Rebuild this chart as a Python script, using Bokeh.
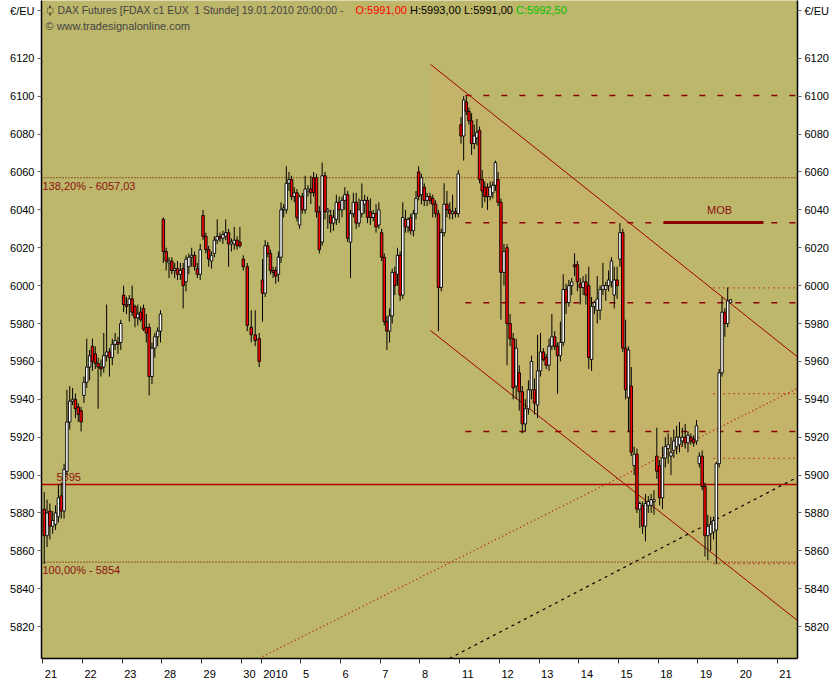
import numpy as np
from bokeh.plotting import figure
from bokeh.models import (Range1d, Label, ColumnDataSource, BoxAnnotation,
                          LinearAxis, FixedTicker, CustomJSTickFormatter)
from bokeh.embed import file_html
from bokeh.resources import INLINE

# ------------------------------------------------------------------ data
day_labels = ["21", "22", "23", "28", "29", "30", "2010", "5", "6", "7", "8",
              "11", "12", "13", "14", "15", "18", "19", "20", "21"]
day_slots = [14, 14, 14, 14, 14, 7, 14, 14, 14, 14, 14, 14, 14, 14, 14, 14, 14, 14, 14, 14]

# hourly bars per day: (open, high, low, close)
dec21 = [(5882, 5891, 5853, 5868), (5868, 5887, 5862, 5880), (5881, 5885, 5866, 5873),
         (5873, 5881, 5869, 5876), (5874, 5884, 5871, 5880), (5878, 5895, 5875, 5888),
         (5889, 5896, 5877, 5881), (5881, 5906, 5877, 5903), (5902, 5945, 5900, 5928),
         (5928, 5947, 5924, 5939), (5939, 5946, 5937, 5940), (5940, 5943, 5930, 5935),
         (5936, 5938, 5928, 5932), (5934, 5936, 5923, 5928)]
dec22 = [(5942, 5952, 5938, 5949), (5949, 5972, 5946, 5957), (5957, 5966, 5950, 5963),
         (5968, 5972, 5955, 5960), (5964, 5968, 5956, 5959), (5959, 5962, 5935, 5957),
         (5957, 5961, 5952, 5956), (5957, 5975, 5954, 5963), (5963, 5990, 5960, 5965),
         (5965, 5967, 5952, 5962), (5962, 5972, 5958, 5969), (5969, 5975, 5966, 5971),
         (5970, 5973, 5964, 5969), (5970, 5982, 5966, 5980)]
dec23 = [(5995, 6000, 5986, 5990), (5990, 5994, 5985, 5989), (5990, 5995, 5981, 5993),
         (5993, 6000, 5984, 5986), (5989, 5990, 5978, 5983), (5983, 5990, 5979, 5985),
         (5986, 5989, 5981, 5982), (5988, 5990, 5976, 5977), (5978, 5985, 5970, 5975),
         (5978, 5980, 5942, 5952), (5952, 5970, 5948, 5967), (5967, 5975, 5962, 5973),
         (5973, 5978, 5968, 5976), (5976, 5987, 5970, 5985)]
dec28 = [(6035, 6036, 6012, 6018), (6018, 6020, 6008, 6013), (6012, 6015, 6004, 6013),
         (6013, 6015, 6006, 6008), (6008, 6012, 6004, 6009), (6009, 6013, 6003, 6006),
         (6006, 6012, 6003, 6008), (6009, 6012, 5988, 6000), (6002, 6016, 5997, 6014),
         (6010, 6017, 6006, 6015), (6015, 6020, 6010, 6016), (6016, 6018, 6008, 6010),
         (6009, 6012, 6004, 6006), (6006, 6022, 6003, 6019)]
dec29 = [(6037, 6040, 6024, 6026), (6026, 6028, 6017, 6019), (6019, 6021, 6010, 6014),
         (6013, 6018, 6009, 6016), (6017, 6026, 6015, 6024), (6024, 6035, 6022, 6026),
         (6026, 6028, 6023, 6025), (6025, 6029, 6022, 6027), (6026, 6035, 6024, 6028),
         (6028, 6030, 6010, 6022), (6022, 6025, 6018, 6023), (6022, 6031, 6019, 6024),
         (6024, 6026, 6019, 6021), (6023, 6031, 6020, 6021)]
dec30 = [(6014, 6016, 6008, 6010), (6010, 6012, 5976, 5979), (5978, 5987, 5970, 5974),
         (5974, 5987, 5968, 5971), (5972, 5975, 5957, 5960)]
jan04 = [(6003, 6014, 5981, 5996), (5996, 6024, 5994, 6021), (6021, 6023, 6015, 6017),
         (6017, 6019, 6006, 6008), (6008, 6010, 6004, 6007), (6008, 6010, 6001, 6005),
         (6006, 6018, 6002, 6015), (6015, 6044, 6012, 6040), (6040, 6043, 6036, 6041),
         (6040, 6063, 6038, 6054), (6054, 6060, 6050, 6056), (6056, 6058, 6045, 6047),
         (6047, 6052, 6044, 6049), (6049, 6051, 6034, 6036), (6032, 6048, 6030, 6047)]
jan05 = [(6047, 6049, 6038, 6040), (6040, 6058, 6038, 6051), (6050, 6053, 6047, 6051),
         (6051, 6058, 6043, 6049), (6057, 6060, 6047, 6049), (6057, 6059, 6036, 6039),
         (6039, 6042, 6017, 6019), (6023, 6065, 6021, 6058), (6058, 6060, 6035, 6039),
         (6039, 6041, 6030, 6040), (6037, 6040, 6028, 6033), (6033, 6040, 6029, 6036),
         (6035, 6048, 6032, 6044), (6044, 6047, 6033, 6040)]
jan06 = [(6040, 6047, 6036, 6045), (6045, 6052, 6040, 6048), (6048, 6050, 6023, 6025),
         (6023, 6040, 6004, 6038), (6038, 6049, 6036, 6044), (6044, 6049, 6030, 6033),
         (6033, 6046, 6031, 6040), (6038, 6054, 6036, 6045), (6043, 6048, 6038, 6045),
         (6045, 6047, 6033, 6036), (6039, 6046, 6032, 6036), (6036, 6040, 6034, 6038),
         (6038, 6043, 6028, 6031), (6032, 6044, 6030, 6040)]
jan07 = [(6028, 6030, 6013, 6015), (6015, 6017, 5979, 5981), (5981, 5984, 5966, 5976),
         (5976, 5988, 5970, 5984), (5984, 6009, 5980, 6007), (6007, 6010, 5995, 6000),
         (6006, 6020, 6000, 6016), (6016, 6018, 5992, 5995), (5995, 6044, 5993, 6036),
         (6035, 6040, 6028, 6031), (6031, 6036, 6028, 6035), (6036, 6038, 6027, 6029),
         (6029, 6040, 6026, 6038), (6038, 6050, 6035, 6046), (6060, 6063, 6045, 6047)]
jan08 = [(6048, 6059, 6043, 6057), (6052, 6054, 6042, 6045), (6045, 6049, 6042, 6047),
         (6047, 6049, 6043, 6045), (6046, 6048, 6036, 6043), (6043, 6045, 6036, 6038),
         (6038, 6040, 5976, 5999), (5999, 6030, 5997, 6028), (6028, 6054, 6026, 6043),
         (6043, 6050, 6036, 6040), (6040, 6044, 6035, 6038), (6038, 6048, 6035, 6039),
         (6039, 6041, 6036, 6038), (6038, 6061, 6036, 6059)]
jan11 = [(6085, 6089, 6075, 6079), (6079, 6100, 6066, 6098), (6097, 6100, 6090, 6092),
         (6092, 6094, 6085, 6087), (6087, 6091, 6069, 6075), (6075, 6085, 6072, 6079),
         (6078, 6088, 6074, 6081), (6082, 6084, 6054, 6056), (6056, 6061, 6041, 6050),
         (6052, 6055, 6044, 6047), (6052, 6054, 6040, 6047), (6047, 6055, 6045, 6052),
         (6049, 6055, 6046, 6053), (6053, 6066, 6050, 6065), (6056, 6060, 6042, 6044)]
jan12 = [(6044, 6046, 5982, 6007), (6007, 6022, 6000, 6018), (6020, 6022, 5958, 5980),
         (5980, 5985, 5968, 5972), (5972, 5975, 5940, 5946), (5947, 5972, 5940, 5967),
         (5954, 5958, 5934, 5944), (5944, 5947, 5922, 5927), (5927, 5940, 5923, 5935),
         (5935, 5950, 5932, 5945), (5945, 5963, 5940, 5960), (5945, 5951, 5932, 5938),
         (5937, 5974, 5930, 5955)]
jan13 = [(5955, 5975, 5952, 5965), (5965, 5967, 5960, 5961), (5962, 5964, 5956, 5958),
         (5958, 5972, 5955, 5968), (5968, 5985, 5966, 5973), (5973, 5976, 5966, 5968),
         (5968, 5970, 5943, 5963), (5963, 5981, 5960, 5970), (5970, 6006, 5968, 5998),
         (5998, 6001, 5985, 5991), (5991, 6003, 5989, 6000), (6000, 6004, 5995, 6002),
         (6011, 6017, 6005, 6010), (6011, 6013, 5997, 6002)]
jan14 = [(6001, 6004, 5990, 5999), (5999, 6005, 5995, 6002), (6002, 6006, 5990, 5995),
         (6000, 6010, 5956, 5962), (5961, 5994, 5955, 5989), (5989, 5992, 5985, 5991),
         (5987, 6005, 5980, 5993), (5987, 6000, 5982, 5998), (5998, 6012, 5995, 6000),
         (5998, 6002, 5992, 6000), (6000, 6008, 5997, 6003), (6002, 6015, 5999, 6013),
         (5995, 6010, 5988, 6003), (6003, 6010, 5993, 6000)]
jan15 = [(6014, 6033, 6010, 6028), (6028, 6030, 5965, 5967), (5967, 5982, 5940, 5945),
         (5941, 5968, 5923, 5966), (5947, 5957, 5910, 5912), (5905, 5915, 5900, 5911),
         (5911, 5914, 5880, 5882), (5882, 5886, 5872, 5885), (5884, 5886, 5869, 5873),
         (5873, 5890, 5865, 5885), (5884, 5889, 5880, 5886), (5884, 5890, 5880, 5887),
         (5886, 5892, 5879, 5887), (5910, 5925, 5898, 5902)]
jan18 = [(5905, 5908, 5884, 5888), (5888, 5915, 5882, 5909), (5909, 5920, 5904, 5915),
         (5914, 5922, 5906, 5916), (5910, 5920, 5900, 5912), (5913, 5924, 5909, 5918),
         (5915, 5926, 5911, 5920), (5916, 5928, 5912, 5920), (5918, 5925, 5915, 5920),
         (5920, 5927, 5914, 5917), (5917, 5923, 5912, 5921), (5920, 5922, 5916, 5918),
         (5919, 5921, 5915, 5917), (5918, 5929, 5916, 5926)]
jan19 = [(5906, 5912, 5904, 5910), (5910, 5913, 5892, 5894), (5894, 5896, 5857, 5868),
         (5868, 5879, 5855, 5873), (5869, 5878, 5860, 5874), (5870, 5878, 5866, 5876),
         (5871, 5907, 5853, 5906), (5906, 5956, 5904, 5954), (5954, 5994, 5952, 5986),
         (5986, 5988, 5973, 5980), (5980, 5999, 5978, 5992), (5991, 5993, 5991, 5992.5)]

price_ticks = list(range(5820, 6121, 20))
unit_tick = 6145          # position of the "€/EU" caption on the price axes
unit_text = "\u20ac/EU"

fib_levels = [6057.03, 5854.0]
fib_labels = ["138,20% - 6057,03", "100,00% - 5854"]
pivot_level = 5895.0
pivot_label = "5895"
resist_levels = [6100.4, 6033.2, 5990.9, 5923.0]
resist_start = 149.0
recent_levels = [5998.8, 5943.0, 5908.8, 5853.2]
recent_start = 236.5
mob_level = 6033.3
mob_x = [218.9, 254.1]
channel_x = [136.7, 266.1]
channel_upper = [6116.8, 5962.4]
channel_lower = [5976.3, 5823.2]
trend_dotted_x = [77.5, 266.1]
trend_dotted_y = [5804.2, 5945.8]
trend_dashed_x = [143.4, 266.1]
trend_dashed_y = [5803.2, 5898.9]

title_main = "DAX Futures [FDAX c1 EUX \u00a01 Stunde] 19.01.2010 20:00:00 -"
ohlc_text = ["O:5991,00", "H:5993,00", "L:5991,00", "C:5992,50"]
ohlc_colors = ["#FF0000", "#000000", "#000000", "#00C000"]
copyright_text = "\u00a9 www.tradesignalonline.com"

# ------------------------------------------------------------------ layout helpers
FONT = "Liberation Sans"
FS = "11px"
X0 = -0.46      # bar-axis value at the left frame edge
PXB = 2.836     # pixels per hourly slot
BG = "#BDB76B"


def X(px):
    return X0 + (px - 41) / PXB


def V(py):
    return 6000 - (py - 286) / 1.9


days_data = [dec21, dec22, dec23, dec28, dec29, dec30, jan04, jan05, jan06, jan07,
             jan08, jan11, jan12, jan13, jan14, jan15, jan18, jan19]
starts = np.concatenate([[0], np.cumsum(day_slots)[:-1]]).astype(float)

xs, O, Hh, Lw, C = [], [], [], [], []
for i, bars in enumerate(days_data):
    n = len(bars)
    step = day_slots[i] / n if i < len(days_data) - 1 else 1.0
    for k, (o, h, l, c) in enumerate(bars):
        xs.append(starts[i] + (k + 0.5) * step)
        O.append(o); Hh.append(h); Lw.append(l); C.append(c)
O = np.array(O, float); C = np.array(C, float)
fills = ["#FF0000" if c < o else "#FFFFFF" for o, c in zip(O, C)]
src = ColumnDataSource(dict(x=xs, h=Hh, l=Lw, top=np.maximum(O, C),
                            bottom=np.minimum(O, C), fill=fills))

p = figure(width=836, height=680,
           x_range=Range1d(X(41), X(797)), y_range=Range1d(V(660), V(0)),
           output_backend="svg", toolbar_location=None,
           min_border_left=41, min_border_right=39, min_border_top=0, min_border_bottom=20,
           background_fill_color=BG, border_fill_color="white",
           outline_line_color=None)
p.xgrid.visible = False
p.ygrid.visible = False

xl, xr = X(41), X(797)

# ---------------- axes
yfmt = CustomJSTickFormatter(args=dict(unit=unit_text, ut=unit_tick),
                             code="return (tick == ut) ? unit : String(tick);")


def style_axis(ax):
    ax.major_label_text_font = FONT
    ax.major_label_text_font_size = FS
    ax.major_label_text_color = "black"
    ax.axis_line_color = "black"
    ax.axis_line_width = 1.5
    ax.minor_tick_line_color = None


left_ax = p.yaxis[0]
right_ax = LinearAxis()
p.add_layout(right_ax, "right")
for ax in (left_ax, right_ax):
    style_axis(ax)
    ax.ticker = FixedTicker(ticks=price_ticks + [unit_tick])
    ax.formatter = yfmt
    ax.major_tick_line_color = "#666666"
    ax.major_tick_in = 0
    ax.major_tick_out = 4
    ax.major_label_standoff = 3

# bottom axis: labels left-aligned after each day tick
label_centers = [s + (2.0 + len(t) * 6.12 / 2) / PXB for s, t in zip(starts, day_labels)]
bx = p.xaxis[0]
style_axis(bx)
bx.ticker = FixedTicker(ticks=label_centers, minor_ticks=list(starts))
bx.formatter = CustomJSTickFormatter(args=dict(labels=day_labels), code="return labels[index];")
bx.major_tick_line_color = None
bx.major_tick_out = 0
bx.major_tick_in = 0
bx.minor_tick_line_color = "#333333"
bx.minor_tick_in = 0
bx.minor_tick_out = 5
bx.major_label_standoff = 6

# ---------------- chart marks
p.patch(channel_x + channel_x[::-1], channel_upper + channel_lower[::-1],
        fill_color="#CDAE66", fill_alpha=0.35, line_color=None)

for lv in fib_levels:
    p.line([xl, xr], [lv, lv], line_color="#7A1A00", line_width=1.2, line_dash="1 2")
p.line([xl, xr], [pivot_level, pivot_level], line_color="#B00000", line_width=1.5)

for lv in resist_levels:
    p.line([resist_start, xr], [lv, lv], line_color="#8B0000", line_width=1.5, line_dash="6 12")
for lv in recent_levels:
    p.line([recent_start, xr], [lv, lv], line_color="#C00000", line_width=1.2, line_dash="1 4")

p.line(channel_x, channel_upper, line_color="#A00000", line_width=1)
p.line(channel_x, channel_lower, line_color="#A00000", line_width=1)
p.line(trend_dotted_x, trend_dotted_y, line_color="#C00000", line_width=1.2, line_dash="1 3")
p.line(trend_dashed_x, trend_dashed_y, line_color="#000000", line_width=1.2, line_dash="3 4")

p.line(mob_x, [mob_level, mob_level], line_color="#8B0000", line_width=3)

p.segment(x0="x", y0="l", x1="x", y1="h", source=src, line_color="black", line_width=1)
p.vbar(x="x", width=0.88, top="top", bottom="bottom", source=src,
       fill_color="fill", line_color="black", line_width=0.9)

# ---------------- texts inside the frame
dark_red = "#8B1010"
for txt, py in [(fib_labels[0], 186), (fib_labels[1], 571)]:
    p.add_layout(Label(x=X(42), y=V(py), text=txt, text_font=FONT, text_font_size=FS,
                       text_color=dark_red, text_baseline="middle", level="underlay"))
p.add_layout(Label(x=X(56), y=V(478), text=pivot_label, text_font=FONT, text_font_size=FS,
                   text_color=dark_red, text_baseline="middle", level="underlay"))
p.add_layout(Label(x=X(719), y=V(210), text="MOB", text_font=FONT, text_font_size=FS,
                   text_color=dark_red, text_baseline="middle", text_align="center"))

# header
p.add_layout(BoxAnnotation(left=X(49), right=X(50), top=V(5), bottom=V(15),
                           fill_color="black", fill_alpha=1, line_color=None))
p.add_layout(BoxAnnotation(left=X(47), right=X(52.5), top=V(7.5), bottom=V(12.5),
                           fill_color=BG, fill_alpha=1, line_color="black", line_width=1))
p.add_layout(Label(x=X(57), y=V(10), text=title_main, text_font=FONT, text_font_size="10.4px",
                   text_baseline="middle"))
for txt, col, px in zip(ohlc_text, ohlc_colors, [355, 409.5, 463.5, 515.5]):
    p.add_layout(Label(x=X(px), y=V(10), text=txt, text_font=FONT, text_font_size=FS,
                       text_color=col, text_baseline="middle"))
p.add_layout(Label(x=X(45), y=V(25.5), text=copyright_text, text_font=FONT, text_font_size=FS,
                   text_baseline="middle"))

open("out.html", "w").write(file_html(p, INLINE))
